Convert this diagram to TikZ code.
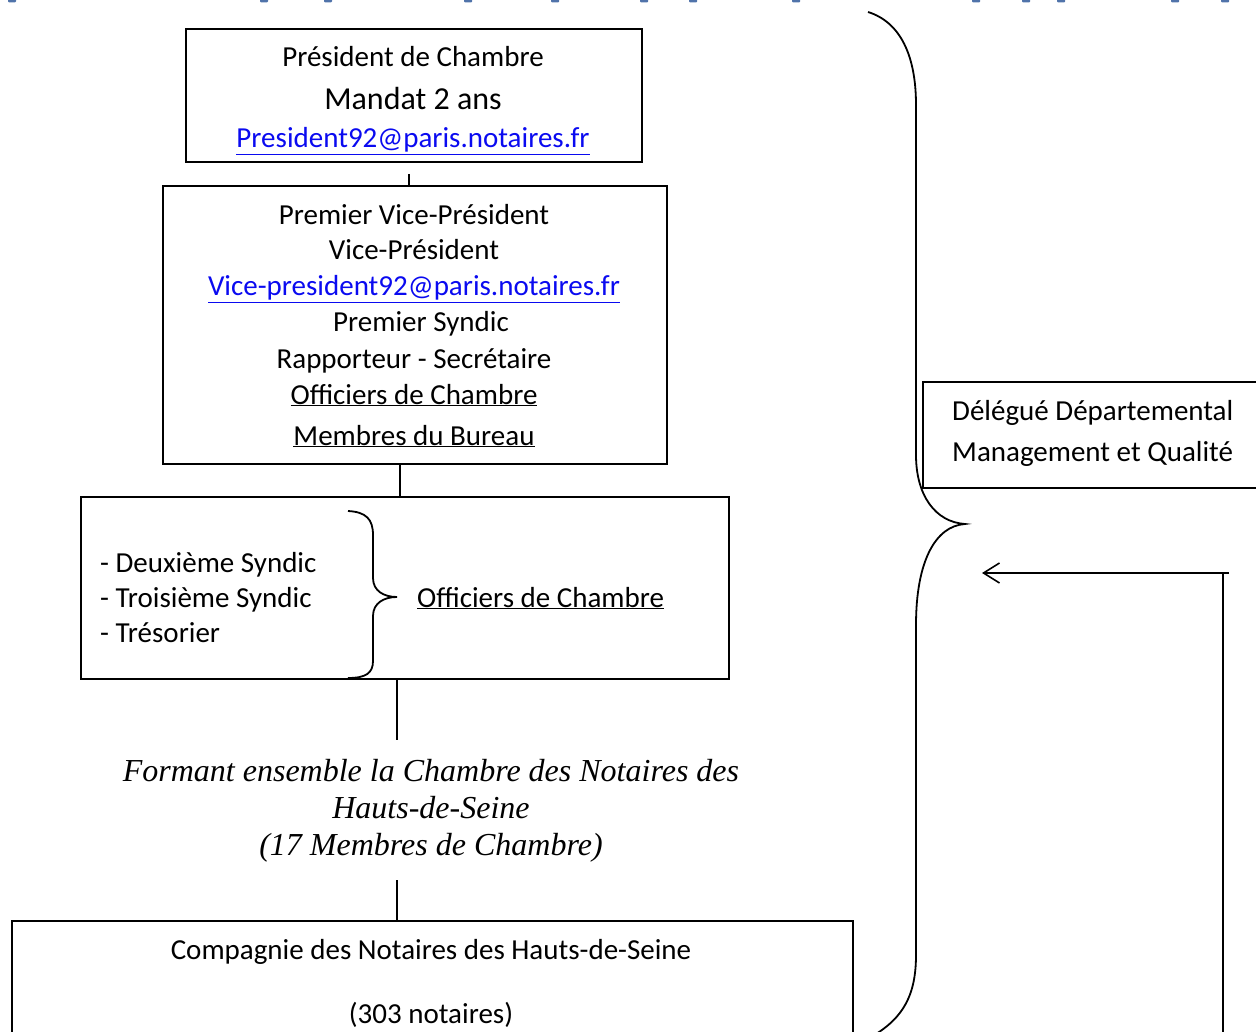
\documentclass[tikz,border=0pt]{standalone}
\usepackage{fontspec}
\setmainfont{Carlito}
\newfontfamily\serifit{Liberation Serif}
\usetikzlibrary{arrows.meta}
\definecolor{linkblue}{RGB}{10,10,240}
\definecolor{topblue}{RGB}{80,115,170}
\begin{document}
\begin{tikzpicture}[x=1pt,y=-1pt,
  box/.style={draw, line width=1.8pt, inner sep=0pt, anchor=north west},
  txt/.style={anchor=base, inner sep=0pt, font=\fontsize{29}{35}\selectfont},
  ltxt/.style={anchor=base west, inner sep=0pt, font=\fontsize{29}{35}\selectfont},
  link/.style={txt, text=linkblue},
  conn/.style={line width=1.6pt},
  brace/.style={line width=1.8pt},
  topmark/.style={fill=topblue, draw=none}]
\useasboundingbox (0,0) rectangle (1256,1032);
\clip (0,0) rectangle (1256,1032);

% cut-off marks at the top edge
\foreach \mx in {12,264,328,468,555,644,693,796,976,1026,1061,1175,1225}
  \fill[topmark, rounded corners=1pt] (\mx-4,-2) rectangle (\mx+4,2.5);

% boxes
\node[box, minimum width=456pt, minimum height=133pt] (b1) at (185,28) {};
\node[box, minimum width=504pt, minimum height=278pt] (b2) at (162,185) {};
\node[box, minimum width=648pt, minimum height=182pt] (b3) at (80,496) {};
\node[box, minimum width=841pt, minimum height=160pt] (b4) at (11,920) {};
\node[box, minimum width=400pt, minimum height=106pt] (b5) at (922,381) {};

% box 1 text
\node[txt] (t11) at (413,67) {Président de Chambre};
\node[txt, font=\fontsize{32}{38}\selectfont] (t12) at (413,110) {Mandat 2 ans};
\node[link] (t13) at (413,148) {\underline{President92@paris.notaires.fr}};

% box 2 text
\node[txt] (t21) at (414,225) {Premier Vice-Président};
\node[txt] (t22) at (414,260) {Vice-Président};
\node[link] (t23) at (414,296) {\underline{Vice-president92@paris.notaires.fr}};
\node[txt] (t24) at (421,332) {Premier Syndic};
\node[txt] (t25) at (414,368) {Rapporteur - Secrétaire};
\node[txt] (t26) at (414,404) {\underline{Officiers de Chambre}};
\node[txt] (t27) at (414,445) {\underline{Membres du Bureau}};

% box 3 text
\node[ltxt] (t31) at (100,572) {- Deuxième Syndic};
\node[ltxt] (t32) at (100,607) {- Troisième Syndic};
\node[ltxt] (t33) at (100,642) {- Trésorier};
\node[ltxt] (t34) at (417,607) {\underline{Officiers de Chambre}};
\draw[brace] (348,511) .. controls (366,512) and (373,519) .. (373,535)
  -- (373,578) .. controls (373,591) and (384,597) .. (397,597)
  .. controls (384,597) and (373,603) .. (373,616)
  -- (373,661) .. controls (373,673) and (366,678) .. (348,678);

% italic note
\node[inner sep=0pt, align=center, font=\serifit\itshape\fontsize{32}{37}\selectfont] (note) at (431,811)
  {Formant ensemble la Chambre des Notaires des\\Hauts-de-Seine\\(17 Membres de Chambre)};

% box 4 text
\node[txt] (t41) at (431,959) {Compagnie des Notaires des Hauts-de-Seine};
\node[txt] (t42) at (431,1023) {(303 notaires)};

% box 5 text
\node[ltxt] (t51) at (952,420) {Délégué Départemental};
\node[ltxt] (t52) at (952,461) {Management et Qualité};

% connectors
\coordinate (c0) at (409,174);
\coordinate (c1) at (400,0);
\coordinate (c2) at (397,0);
\coordinate (n1) at (397,740);
\coordinate (n2) at (397,880);
\draw[conn] (c0) -- (b2.north -| c0);
\draw[conn] (b2.south -| c1) -- (b3.north -| c1);
\draw[conn] (b3.south -| c2) -- (n1);
\draw[conn] (n2) -- (b4.north -| n2);

% big brace
\draw[brace] (868,12) .. controls (900,22) and (916,55) .. (916,105)
  -- (916,455) .. controls (916,495) and (935,522) .. (965,524)
  .. controls (935,526) and (916,562) .. (916,625)
  -- (916,955) .. controls (916,1000) and (900,1025) .. (855,1045);

% feedback arrow
\coordinate (a0) at (1223,1040);
\coordinate (a1) at (1223,573);
\coordinate (a2) at (1229,573);
\coordinate (a3) at (982,573);
\draw[conn] (a0) -- (a1);
\draw[conn, -{Straight Barb[length=16pt,width=20pt,line width=1.6pt]}] (a2) -- (a3);
\end{tikzpicture}
\end{document}
